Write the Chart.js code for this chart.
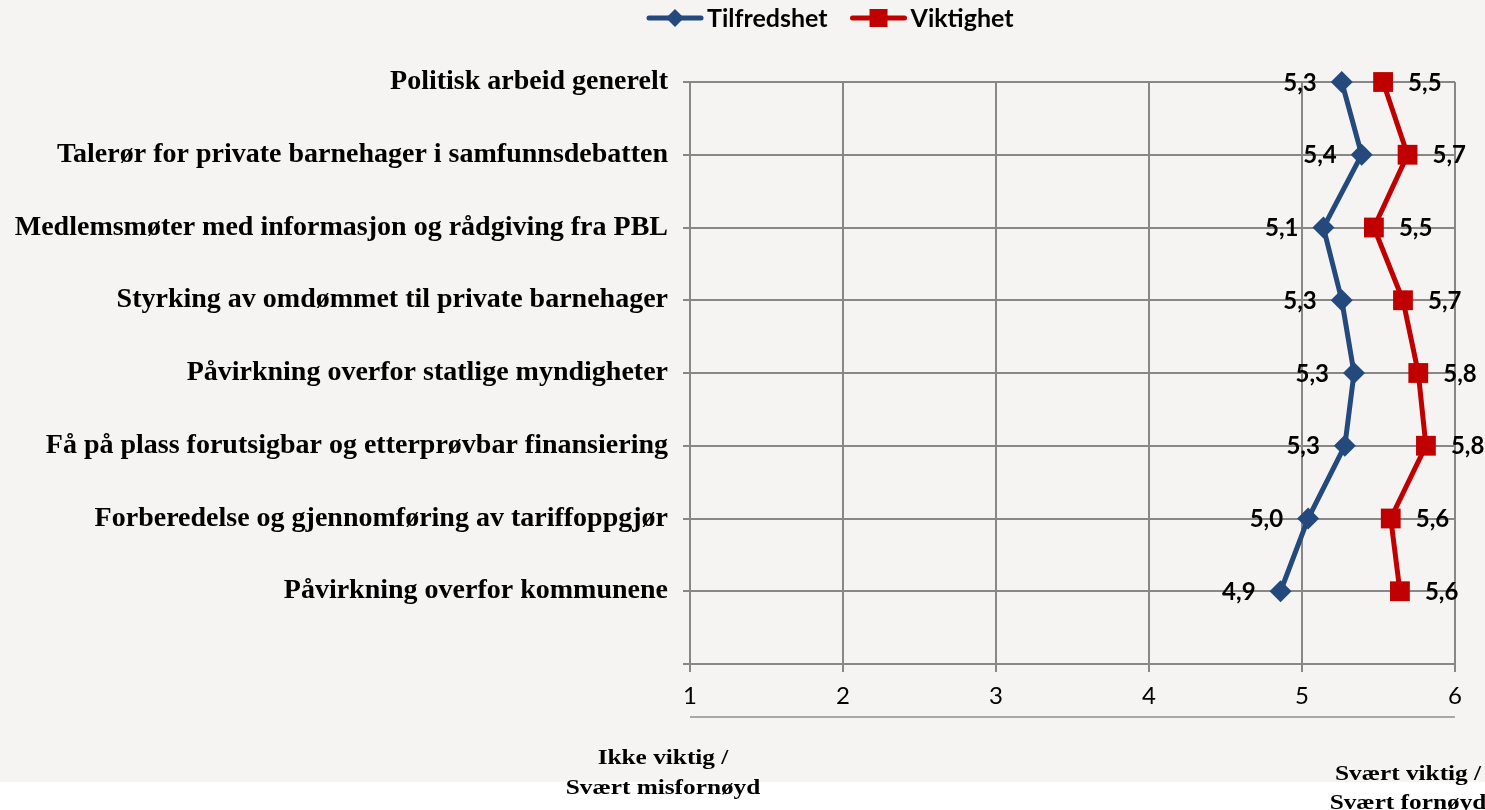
<!DOCTYPE html>
<html>
<head>
<meta charset="utf-8">
<script src="https://cdn.jsdelivr.net/npm/chart.js@4.4.1/dist/chart.umd.min.js"></script>
<style>
  html, body { margin: 0; padding: 0; background: #ffffff; }
  #wrap { width: 1485px; height: 810px; position: relative; }
</style>
</head>
<body>
<div id="wrap"><canvas id="c" width="1485" height="810"></canvas></div>
<script>
const categories = [
  "Politisk arbeid generelt",
  "Talerør for private barnehager i samfunnsdebatten",
  "Medlemsmøter med informasjon og rådgiving fra PBL",
  "Styrking av omdømmet til private barnehager",
  "Påvirkning overfor statlige myndigheter",
  "Få på plass forutsigbar og etterprøvbar finansiering",
  "Forberedelse og gjennomføring av tariffoppgjør",
  "Påvirkning overfor kommunene"
];
const tilfredshet = [5.26, 5.39, 5.14, 5.26, 5.34, 5.28, 5.04, 4.86];
const viktighet   = [5.53, 5.69, 5.47, 5.66, 5.76, 5.81, 5.58, 5.64];
const xTicks = [1, 2, 3, 4, 5, 6];
const seriesNames = ["Tilfredshet", "Viktighet"];
const bottomLeftText = ["Ikke viktig /", "Svært misfornøyd"];
const bottomRightText = ["Svært viktig /", "Svært fornøyd"];

const BLUE = "#23497d";
const RED = "#c00000";
const GRID = "#878787";

const fmt = v => v.toFixed(1).replace(".", ",");

const decorPlugin = {
  id: "decor",
  beforeDraw(chart) {
    const ctx = chart.ctx;
    ctx.save();
    ctx.fillStyle = "#f5f4f2";
    ctx.fillRect(0, 0, chart.width, 782);
    ctx.restore();
  },
  afterDraw(chart) {
    const ctx = chart.ctx;
    const ca = chart.chartArea;
    ctx.save();
    // secondary rule under tick labels
    ctx.strokeStyle = "#a8a8a8";
    ctx.lineWidth = 2;
    ctx.beginPath();
    ctx.moveTo(ca.left, ca.bottom + 53);
    ctx.lineTo(ca.right, ca.bottom + 53);
    ctx.stroke();

    // legend
    const ly = 18;
    let lx = 647;
    ctx.font = "bold 25px Lato";
    ctx.textBaseline = "middle";
    ctx.textAlign = "left";
    chart.data.datasets.forEach((ds, i) => {
      ctx.strokeStyle = ds.borderColor;
      ctx.lineWidth = 5;
      ctx.lineCap = "round";
      ctx.beginPath();
      ctx.moveTo(lx + 2, ly);
      ctx.lineTo(lx + 54, ly);
      ctx.stroke();
      ctx.fillStyle = ds.backgroundColor;
      const cx = lx + 28;
      if (i === 0) {
        ctx.beginPath();
        ctx.moveTo(cx, ly - 9); ctx.lineTo(cx + 9, ly); ctx.lineTo(cx, ly + 9); ctx.lineTo(cx - 9, ly);
        ctx.closePath(); ctx.fill();
      } else {
        ctx.fillRect(cx - 9, ly - 9, 18, 18);
      }
      ctx.fillStyle = "#000";
      ctx.fillText(ds.label, lx + 60, ly + 1);
      lx += 60 + ctx.measureText(ds.label).width + 23;
    });

    // data labels
    ctx.font = "bold 24px Lato";
    chart.data.datasets.forEach((ds, i) => {
      const meta = chart.getDatasetMeta(i);
      meta.data.forEach((pt, j) => {
        ctx.fillStyle = "#000";
        ctx.textAlign = i === 0 ? "right" : "left";
        const x = i === 0 ? pt.x - 25 : pt.x + 25;
        ctx.fillText(fmt(ds.data[j].x), x, pt.y + 1);
      });
    });

    // bottom captions (slightly widened like the reference)
    ctx.font = "bold 22px 'Liberation Serif'";
    ctx.textAlign = "center";
    const cap = (t, x, y) => {
      ctx.save();
      ctx.translate(x, y);
      ctx.scale(1.15, 1);
      ctx.fillText(t, 0, 0);
      ctx.restore();
    };
    cap(bottomLeftText[0], 663, 758);
    cap(bottomLeftText[1], 663, 788);
    cap(bottomRightText[0], 1408, 774);
    cap(bottomRightText[1], 1408, 803);
    ctx.restore();
  }
};

new Chart(document.getElementById("c"), {
  type: "scatter",
  data: {
    datasets: [
      {
        label: seriesNames[0],
        data: tilfredshet.map((v, i) => ({ x: v, y: i })),
        showLine: true,
        clip: false,
        borderColor: BLUE,
        backgroundColor: BLUE,
        borderWidth: 5,
        pointStyle: "rectRot",
        pointRadius: 11,
        pointHoverRadius: 11,
        pointBorderWidth: 0
      },
      {
        label: seriesNames[1],
        data: viktighet.map((v, i) => ({ x: v, y: i })),
        showLine: true,
        clip: false,
        borderColor: RED,
        backgroundColor: RED,
        borderWidth: 5,
        pointStyle: "rect",
        pointRadius: 14,
        pointHoverRadius: 14,
        pointBorderWidth: 0
      }
    ]
  },
  options: {
    responsive: false,
    animation: false,
    devicePixelRatio: 1,
    layout: { padding: { top: 82, right: 30, left: 0, bottom: 0 } },
    plugins: {
      legend: { display: false },
      tooltip: { enabled: false }
    },
    scales: {
      x: {
        type: "linear",
        min: xTicks[0],
        max: xTicks[xTicks.length - 1],
        afterBuildTicks: s => { s.ticks = xTicks.map(v => ({ value: v })); },
        afterFit: s => { s.height = 146; },
        grid: { color: GRID, lineWidth: 2, tickLength: 8, drawTicks: true },
        border: { display: true, color: GRID, width: 2 },
        ticks: { color: "#000", font: { family: "Lato", size: 24 }, padding: 10 }
      },
      y: {
        type: "linear",
        reverse: true,
        min: 0,
        max: categories.length,
        afterBuildTicks: s => { s.ticks = categories.concat([""]).map((c, i) => ({ value: i })); },
        afterFit: s => { s.width = 690; },
        grid: { color: GRID, lineWidth: 2, tickLength: 7, drawTicks: true },
        border: { display: true, color: GRID, width: 2 },
        ticks: {
          color: "#000",
          font: { family: "'Liberation Serif'", size: 28, weight: "bold" },
          padding: 15,
          callback: v => categories[v] !== undefined ? categories[v] : ""
        }
      }
    }
  },
  plugins: [decorPlugin]
});
</script>
</body>
</html>
